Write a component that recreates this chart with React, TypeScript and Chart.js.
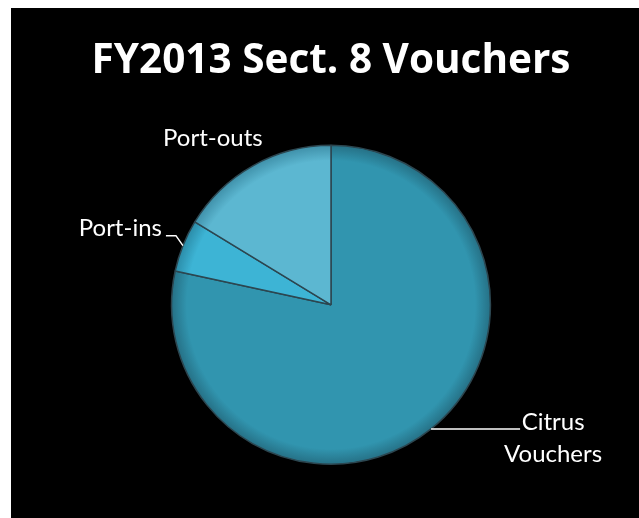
import React, { useEffect, useRef } from "react";
import { Chart, registerables } from "chart.js";

Chart.register(...registerables);

// ---- data ----
const categories = ["Citrus Vouchers", "Port-ins", "Port-outs"];
const shares = [78.4, 5.3, 16.3];
const labelLines = [["Citrus", "Vouchers"], ["Port-ins"], ["Port-outs"]];
const titleText = "FY2013 Sect. 8 Vouchers";

// ---- styles ----
const sliceColors = ["#3195af", "#3db4d5", "#5cb7d1"];
const rimColors = ["#256f84", "#2a8aa6", "#3e8fa8"];
const FONT = "Lato, 'Open Sans', sans-serif";
const TITLE_FONT = "'Open Sans', Lato, sans-serif";

// label layout (offsets from the slice's outer edge point at mid-angle)
type LabelLayout = {
  leader: [number, number][];
  textX: number;
  textY: number;
  align: CanvasTextAlign;
  lineGap: number;
};
const labelLayouts: LabelLayout[] = [
  { leader: [[0, 0], [89, 0]], textX: 122, textY: 1, align: "center", lineGap: 32 },
  { leader: [[0, 0], [-7, -10], [-17, -10]], textX: -21, textY: -10, align: "right", lineGap: 32 },
  { leader: [], textX: -40, textY: -20, align: "center", lineGap: 32 },
];

const labelPlugin = {
  id: "pieLabels",
  afterDatasetsDraw(chart: any) {
    const ctx: CanvasRenderingContext2D = chart.ctx;
    const meta = chart.getDatasetMeta(0);
    ctx.save();
    ctx.fillStyle = "#ffffff";
    ctx.strokeStyle = "#ffffff";
    ctx.lineWidth = 1.5;
    ctx.font = `24px ${FONT}`;
    ctx.textBaseline = "alphabetic";
    meta.data.forEach((arc: any, i: number) => {
      const { x, y, startAngle, endAngle, outerRadius } = arc.getProps(
        ["x", "y", "startAngle", "endAngle", "outerRadius"],
        true
      );
      const mid = (startAngle + endAngle) / 2;
      const ex = x + Math.cos(mid) * outerRadius;
      const ey = y + Math.sin(mid) * outerRadius;
      const lay = labelLayouts[i];
      if (lay.leader.length > 1) {
        ctx.beginPath();
        lay.leader.forEach(([dx, dy], k) => {
          if (k === 0) ctx.moveTo(ex + dx, ey + dy);
          else ctx.lineTo(ex + dx, ey + dy);
        });
        ctx.stroke();
      }
      ctx.textAlign = lay.align;
      labelLines[i].forEach((line, k) => {
        ctx.fillText(line, ex + lay.textX, ey + lay.textY + k * lay.lineGap);
      });
    });
    ctx.restore();
  },
};

export default function App() {
  const ref = useRef<HTMLCanvasElement | null>(null);
  useEffect(() => {
    document.body.style.overflow = "hidden";
    const canvas = ref.current!;
    const chart = new Chart(canvas, {
      type: "pie",
      data: {
        labels: categories,
        datasets: [
          {
            data: shares,
            backgroundColor: (c: any) => {
              const i = c.dataIndex;
              const chartObj = c.chart;
              const area = chartObj.chartArea;
              if (!area) return sliceColors[i];
              const cx = (area.left + area.right) / 2;
              const cy = (area.top + area.bottom) / 2;
              const r = Math.min(area.right - area.left, area.bottom - area.top) / 2;
              const g = chartObj.ctx.createRadialGradient(cx, cy, 0, cx, cy, r);
              g.addColorStop(0, sliceColors[i]);
              g.addColorStop(0.9, sliceColors[i]);
              g.addColorStop(1, rimColors[i]);
              return g;
            },
            borderColor: "#2c4650",
            borderWidth: 1.5,
          },
        ],
      },
      options: {
        animation: false,
        responsive: false,
        devicePixelRatio: 1,
        layout: { padding: { left: 12, right: 0, top: 0, bottom: 53 } },
        plugins: {
          legend: { display: false },
          tooltip: { enabled: false },
          title: {
            display: true,
            text: titleText,
            color: "#ffffff",
            font: { family: TITLE_FONT, size: 40.5, weight: "bold", lineHeight: 1.2 },
            padding: { top: 29, bottom: 59 },
          },
        },
      },
      plugins: [labelPlugin],
    });
    return () => chart.destroy();
  }, []);
  return (
    <div
      style={{
        position: "fixed",
        left: 11,
        top: 8,
        width: 628,
        height: 510,
        background: "#000",
      }}
    >
      <canvas ref={ref} width={628} height={510} style={{ display: "block" }} />
    </div>
  );
}
